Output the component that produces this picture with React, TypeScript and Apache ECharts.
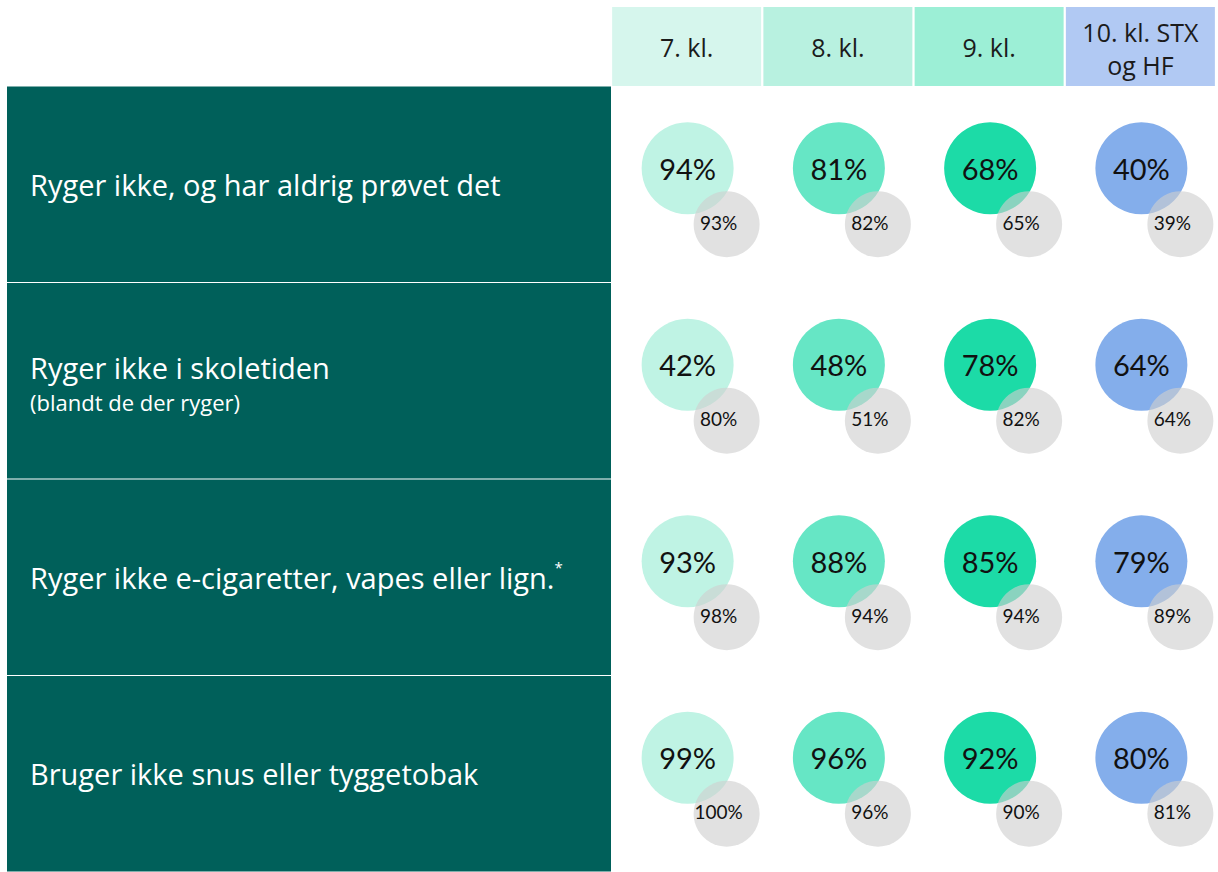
import React, { useEffect, useRef } from 'react';
import * as echarts from 'echarts';

const grades = ['7. kl.', '8. kl.', '9. kl.', '10. kl. STX\nog HF'];
const headerColors = ['#d6f6ed', '#b8f1e0', '#9cefd6', '#b1c9f3'];
const circleColors = ['#bff3e4', '#66e6c5', '#1cdba7', '#84aeeb'];

const rowLabels = [
  'Ryger ikke, og har aldrig prøvet det',
  'Ryger ikke i skoletiden',
  'Ryger ikke e-cigaretter, vapes eller lign.',
  'Bruger ikke snus eller tyggetobak',
];
const rowSubLabels = ['', '(blandt de der ryger)', '', ''];
const rowMarks = ['', '', '*', ''];

// school values (big circles), per row, columns = grades
const schoolRow1 = [94, 81, 68, 40];
const schoolRow2 = [42, 48, 78, 64];
const schoolRow3 = [93, 88, 85, 79];
const schoolRow4 = [99, 96, 92, 80];
// comparison values (small grey circles)
const compareRow1 = [93, 82, 65, 39];
const compareRow2 = [80, 51, 82, 64];
const compareRow3 = [98, 94, 94, 89];
const compareRow4 = [100, 96, 90, 81];

const schoolRows = [schoolRow1, schoolRow2, schoolRow3, schoolRow4];
const compareRows = [compareRow1, compareRow2, compareRow3, compareRow4];

export default function App() {
  const ref = useRef<HTMLDivElement>(null);
  useEffect(() => {
    if (!ref.current) return;
    const chart = echarts.init(ref.current, undefined, { renderer: 'svg' });
    const rowH = 197.5;
    const bigData: any[] = [];
    const smallData: any[] = [];
    schoolRows.forEach((row, r) => {
      row.forEach((v, c) => {
        bigData.push({ value: [c, r, v], itemStyle: { color: circleColors[c], opacity: 1 } });
      });
    });
    compareRows.forEach((row, r) => {
      row.forEach((v, c) => {
        smallData.push({ value: [c, r, v] });
      });
    });
    const option: any = {
      animation: false,
      backgroundColor: '#ffffff',
      grid: { left: 611, top: 86, width: 605, height: rowH * 4 },
      xAxis: {
        type: 'category',
        position: 'top',
        data: grades.map((g, i) => ({
          value: g,
          textStyle: {
            backgroundColor: headerColors[i],
            lineHeight: i === 3 ? 33 : 26,
            padding: i === 3 ? [8, 0, 5, 0] : [26.5, 0, 26.5, 0],
          },
        })),
        axisLine: { show: false },
        axisTick: { show: false },
        splitLine: { show: false },
        axisLabel: {
          interval: 0,
          margin: 0,
          width: 149,
          color: '#1b1b1b',
          fontFamily: 'Open Sans',
          fontSize: 25,
        },
      },
      yAxis: {
        type: 'category',
        inverse: true,
        data: rowLabels.map((l, i) => ({
          value: l,
          textStyle: {
            padding: rowSubLabels[i] ? [66.75, 0, 60.75, 23] : [79.75, 0, 79.75, 23],
          },
        })),
        axisLine: { show: false },
        axisTick: { show: false },
        splitLine: { show: false },
        axisLabel: {
          interval: 0,
          margin: 0,
          align: 'right',
          width: 581,
          backgroundColor: '#00605a',
          formatter: (v: string, idx: number) => {
            let s = '{m|' + v + '}';
            if (rowMarks[idx]) s += '{sup|' + rowMarks[idx] + '}';
            if (rowSubLabels[idx]) s += '\n{s|' + rowSubLabels[idx] + '}';
            return s;
          },
          rich: {
            m: { color: '#ffffff', fontFamily: 'Open Sans', fontSize: 29, lineHeight: 36, align: 'left' },
            sup: { color: '#ffffff', fontFamily: 'Open Sans', fontSize: 15, lineHeight: 22, verticalAlign: 'top', align: 'left' },
            s: { color: '#ffffff', fontFamily: 'Open Sans', fontSize: 22, lineHeight: 32, align: 'left' },
          },
        },
      },
      series: [
        {
          type: 'scatter',
          data: bigData,
          symbol: 'circle',
          symbolSize: 92,
          symbolOffset: [1, -16],
          z: 2,
          label: {
            show: true,
            position: 'inside',
            formatter: (p: any) => p.value[2] + '%',
            color: '#111111',
            fontFamily: 'Lato',
            fontSize: 29,
          },
        },
        {
          type: 'scatter',
          data: smallData,
          symbol: 'circle',
          symbolSize: 66,
          symbolOffset: [40, 40],
          itemStyle: { color: 'rgba(207,207,207,0.62)', opacity: 1 },
          z: 3,
          label: {
            show: true,
            position: 'inside',
            offset: [-8, -2],
            formatter: (p: any) => p.value[2] + '%',
            color: '#111111',
            fontFamily: 'Lato',
            fontSize: 19,
          },
        },
      ],
    };
    chart.setOption(option);
    return () => chart.dispose();
  }, []);
  return (
    <div
      ref={ref}
      style={{ position: 'fixed', left: 0, top: 0, width: 1218, height: 872 }}
    />
  );
}
